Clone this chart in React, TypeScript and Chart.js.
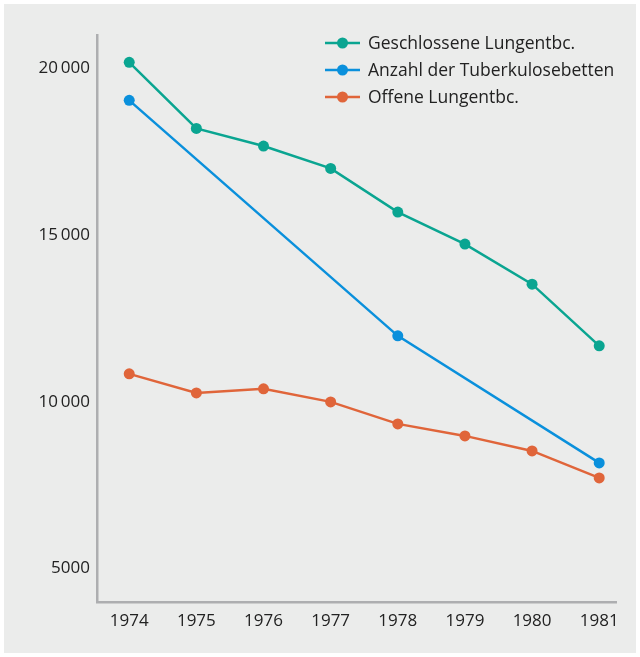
import React, { useEffect, useRef } from "react";
import { Chart, registerables } from "chart.js";

Chart.register(...registerables);

const years = [1974, 1975, 1976, 1977, 1978, 1979, 1980, 1981];
const geschlossene = [20180, 18200, 17670, 17000, 15690, 14730, 13530, 11680];
const tuberkulosebetten = [19040, null, null, null, 11980, null, null, 8170];
const offene = [10840, 10270, 10390, 10000, 9340, 8980, 8530, 7720];
const yTickValues = [5000, 10000, 15000, 20000];
const yTickLabels = ["5000", "10\u2009000", "15\u2009000", "20\u2009000"];
const seriesNames = ["Geschlossene Lungentbc.", "Anzahl der Tuberkulosebetten", "Offene Lungentbc."];
const seriesColors = ["#0aa591", "#0a90dc", "#e0653a"];

const FONT = "'Open Sans', sans-serif";

const legendPlugin = {
  id: "customLegend",
  afterDraw(chart: any) {
    const ctx = chart.ctx;
    ctx.save();
    chart.data.datasets.forEach((ds: any, i: number) => {
      const y = 43 + i * 27;
      ctx.strokeStyle = ds.borderColor;
      ctx.lineWidth = 2.5;
      ctx.beginPath();
      ctx.moveTo(325, y);
      ctx.lineTo(360, y);
      ctx.stroke();
      ctx.fillStyle = ds.borderColor;
      ctx.beginPath();
      ctx.arc(342.5, y, 5.5, 0, Math.PI * 2);
      ctx.fill();
      ctx.fillStyle = "#222";
      ctx.font = `17.5px ${FONT}`;
      ctx.textBaseline = "middle";
      ctx.textAlign = "left";
      ctx.fillText(ds.label, 368, y + 1);
    });
    ctx.restore();
  },
};

export default function App() {
  const ref = useRef<HTMLCanvasElement>(null);
  useEffect(() => {
    if (!ref.current) return;
    const mk = (vals: (number | null)[], i: number) => ({
      label: seriesNames[i],
      data: years.map((x, j) => ({ x, y: vals[j] })),
      borderColor: seriesColors[i],
      backgroundColor: seriesColors[i],
      borderWidth: 2.5,
      pointRadius: 5.5,
      pointHoverRadius: 5.5,
      pointBorderWidth: 0,
      spanGaps: true,
      tension: 0,
    });
    const chart = new Chart(ref.current, {
      type: "line",
      data: {
        datasets: [mk(geschlossene, 0), mk(tuberkulosebetten, 1), mk(offene, 2)],
      },
      options: {
        animation: false,
        responsive: false,
        events: [],
        layout: { padding: { top: 35, right: 24, left: 0, bottom: 0 } },
        plugins: { legend: { display: false }, tooltip: { enabled: false } },
        scales: {
          x: {
            type: "linear",
            min: 1973.52,
            max: 1981.25,
            afterBuildTicks: (axis: any) => {
              axis.ticks = years.map((v) => ({ value: v }));
            },
            afterFit: (axis: any) => {
              axis.height = 55;
            },
            grid: { display: false, drawTicks: false },
            border: { display: true, color: "#adaeb0", width: 2.5 },
            ticks: {
              padding: 9,
              color: "#222",
              font: { family: FONT, size: 17 },
              callback: (v: any) => String(v),
            },
          },
          y: {
            type: "linear",
            min: 4000,
            max: 21000,
            afterBuildTicks: (axis: any) => {
              axis.ticks = yTickValues.map((v) => ({ value: v }));
            },
            afterFit: (axis: any) => {
              axis.width = 97;
            },
            grid: { display: false, drawTicks: false },
            border: { display: true, color: "#adaeb0", width: 2.5 },
            ticks: {
              padding: 7,
              color: "#222",
              font: { family: FONT, size: 17 },
              callback: (v: any) => {
                const k = yTickValues.indexOf(Number(v));
                return k >= 0 ? yTickLabels[k] : "";
              },
            },
          },
        },
      },
      plugins: [legendPlugin],
    });
    return () => chart.destroy();
  }, []);
  return (
    <div style={{ position: "fixed", left: 0, top: 0, width: 640, height: 657, background: "#fff" }}>
      <div style={{ position: "absolute", left: 4, top: 4, width: 632, height: 649, background: "#ebeceb" }} />
      <canvas ref={ref} width={640} height={657} style={{ position: "absolute", left: 0, top: 0, width: 640, height: 657 }} />
    </div>
  );
}
